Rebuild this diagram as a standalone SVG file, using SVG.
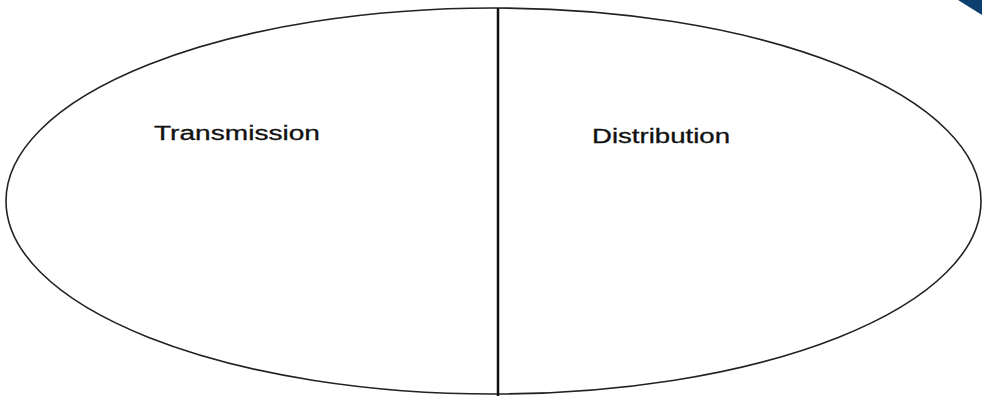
<svg xmlns="http://www.w3.org/2000/svg" width="982" height="396" viewBox="0 0 982 396">
<style>
.lbl{font-family:"Liberation Sans",Arial,sans-serif;font-size:19.5px;fill:#111111;stroke:#111111;stroke-width:0.3}
</style>
<rect width="982" height="396" fill="#ffffff"/>
<polygon points="958,0 982,0 982,15" fill="#0d3f6e"/>
<g id="ellipse">
<ellipse cx="493.5" cy="201" rx="487.5" ry="193" fill="none" stroke="#222222" stroke-width="1.6"/>
</g>
<g id="connectors">
<line x1="498" y1="8" x2="498" y2="396" stroke="#111111" stroke-width="2.5"/>
</g>
<g id="transmission">
<text class="lbl" x="154" y="140" textLength="166" lengthAdjust="spacingAndGlyphs">Transmission</text>
</g>
<g id="distribution">
<text class="lbl" x="592" y="143" textLength="138" lengthAdjust="spacingAndGlyphs">Distribution</text>
</g>
</svg>
